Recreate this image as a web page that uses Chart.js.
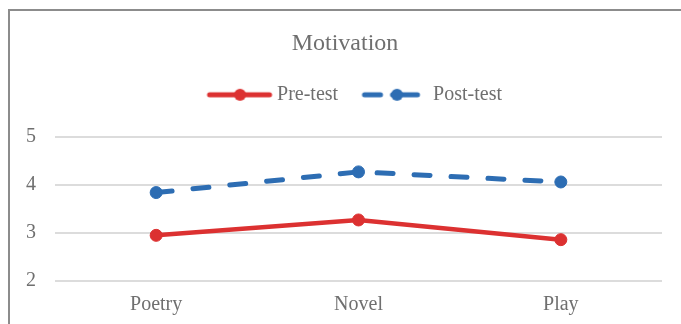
<!DOCTYPE html>
<html>
<head>
<meta charset="utf-8">
<script src="https://cdn.jsdelivr.net/npm/chart.js@4.4.1/dist/chart.umd.min.js"></script>
<style>
    html, body { margin: 0; padding: 0; background: #fff; overflow: hidden; }
    #wrap { position: relative; width: 681px; height: 324px; }
    /* Excel-like chart frame, only the top and left edges are visible */
    #frame {
        position: absolute; left: 8px; top: 9px; width: 700px; height: 340px;
        border-left: 2px solid #8c8c8c; border-top: 2px solid #8c8c8c;
    }
    #motivationChart { position: absolute; left: 0; top: 0; }
</style>
</head>
<body>
<div id="wrap">
    <div id="frame"></div>
    <canvas id="motivationChart" width="681" height="324"></canvas>
</div>
<script>
// Data
const CATEGORIES = ['Poetry', 'Novel', 'Play'];
const PRE_TEST = [2.95, 3.27, 2.86];
const POST_TEST = [3.84, 4.27, 4.06];
const Y_TICKS = [2, 3, 4, 5];

const RED = '#dc3131';
const BLUE = '#2d6db3';
const TEXT_GRAY = '#6f6f6f';
const FONT = '"Liberation Serif", "Times New Roman", serif';

// Legend icon: a short line with a dot, drawn into a small canvas
function makeLegendIcon(color, segments, dotX) {
    const c = document.createElement('canvas');
    c.width = 100;
    c.height = 16;
    const ctx = c.getContext('2d');
    ctx.strokeStyle = color;
    ctx.fillStyle = color;
    ctx.lineWidth = 5;
    ctx.lineCap = 'round';
    segments.forEach(s => {
        ctx.beginPath();
        ctx.moveTo(50 + s[0] + 2.5, 8);
        ctx.lineTo(50 + s[1] - 2.5, 8);
        ctx.stroke();
    });
    ctx.beginPath();
    ctx.arc(50 + dotX, 8, 6, 0, Math.PI * 2);
    ctx.fill();
    return c;
}

const legendIcons = [
    makeLegendIcon(RED, [[-20.5, 44.5]], 12.5),
    makeLegendIcon(BLUE, [[-21.6, -0.6], [6.4, 36.4]], 13.4)
];

// Force the legend block height so the plot starts where the reference does
const legendHeightPlugin = {
    id: 'legendHeight',
    beforeLayout(chart) {
        const lg = chart.legend;
        if (lg && !lg._patched) {
            const fit = lg.fit.bind(lg);
            lg.fit = function () { fit(); this.height = 58; };
            lg._patched = true;
        }
    }
};

const ctx = document.getElementById('motivationChart').getContext('2d');

new Chart(ctx, {
    type: 'line',
    data: {
        labels: CATEGORIES,
        datasets: [{
            label: 'Pre-test',
            data: PRE_TEST,
            borderColor: RED,
            backgroundColor: RED,
            borderWidth: 4.5,
            pointRadius: 6,
            pointBorderWidth: 1,
            pointHoverRadius: 6,
            tension: 0,
            yAxisID: 'y'
        }, {
            label: 'Post-test',
            data: POST_TEST,
            borderColor: BLUE,
            backgroundColor: BLUE,
            borderWidth: 5,
            borderDash: [16, 21],
            borderCapStyle: 'round',
            pointRadius: 6,
            pointBorderWidth: 1,
            pointHoverRadius: 6,
            tension: 0,
            yAxisID: 'y'
        }]
    },
    options: {
        responsive: false,
        animation: false,
        devicePixelRatio: 1,
        layout: { padding: { left: 9, right: 0, top: 0, bottom: 0 } },
        plugins: {
            title: {
                display: true,
                text: 'Motivation',
                color: TEXT_GRAY,
                font: { family: FONT, size: 24, weight: 'normal' },
                padding: { top: 29, bottom: 21 }
            },
            legend: {
                display: true,
                position: 'top',
                labels: {
                    color: TEXT_GRAY,
                    font: { family: FONT, size: 20 },
                    usePointStyle: true,
                    pointStyleWidth: 79,
                    padding: 6,
                    generateLabels(chart) {
                        const items = Chart.defaults.plugins.legend.labels.generateLabels(chart);
                        items.forEach((it, i) => { it.pointStyle = legendIcons[i]; });
                        return items;
                    }
                }
            },
            tooltip: { enabled: false }
        },
        scales: {
            x: {
                type: 'category',
                offset: true,
                grid: { display: false },
                border: { display: false },
                ticks: {
                    color: TEXT_GRAY,
                    font: { family: FONT, size: 20 },
                    padding: 4
                },
                afterFit(scale) { scale.height = 43; }
            },
            y: {
                min: Y_TICKS[0],
                max: Y_TICKS[Y_TICKS.length - 1],
                grid: { color: '#dcdcdc', lineWidth: 2, drawTicks: false },
                border: { display: false },
                ticks: {
                    stepSize: 1,
                    color: TEXT_GRAY,
                    font: { family: FONT, size: 20 },
                    padding: 19
                },
                afterFit(scale) { scale.width = 46; }
            },
            // empty right axis, only reserves the right margin of the plot
            y2: {
                position: 'right',
                grid: { display: false },
                border: { display: false },
                ticks: { display: false },
                afterFit(scale) { scale.width = 19; }
            }
        }
    },
    plugins: [legendHeightPlugin]
});
</script>
</body>
</html>
